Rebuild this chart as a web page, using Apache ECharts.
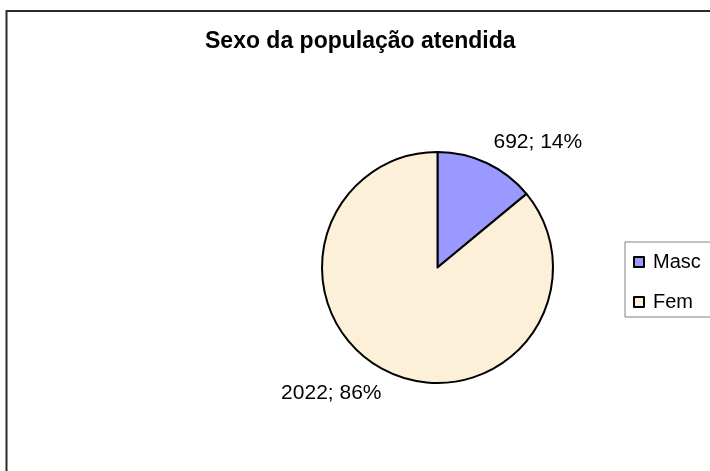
<!DOCTYPE html>
<html>
<head>
<meta charset="utf-8">
<script src="https://cdn.jsdelivr.net/npm/echarts@6/dist/echarts.min.js"></script>
<style>html,body{margin:0;padding:0;background:#fff;}#c{width:710px;height:471px;}</style>
</head>
<body>
<div id="c"></div>
<script>
const titleText = 'Sexo da população atendida';
const categories = ['Masc', 'Fem'];
const counts = [692, 2022];
const percents = [14, 86];
const colors = ['#9999FF', '#FCF1D8'];

const chart = echarts.init(document.getElementById('c'), null, {renderer: 'canvas'});
const FONT = '"Liberation Sans", Arial, sans-serif';

chart.setOption({
  backgroundColor: '#ffffff',
  animation: false,
  graphic: [{
    type: 'rect',
    shape: {x: 6.5, y: 11, width: 800, height: 600},
    style: {fill: 'none', stroke: '#2b2b2b', lineWidth: 2},
    silent: true, z: -1
  }],
  title: {
    text: titleText,
    left: 200,
    top: 25,
    textStyle: {fontFamily: FONT, fontSize: 23, fontWeight: 'bold', color: '#000'}
  },
  legend: {
    orient: 'vertical',
    left: 625,
    top: 242,
    padding: [10, 40, 5, 8],
    itemGap: 20,
    itemWidth: 10,
    itemHeight: 10,
    icon: 'rect',
    borderColor: '#808080',
    borderWidth: 1,
    data: categories,
    textStyle: {fontFamily: FONT, fontSize: 20, color: '#000', lineHeight: 20, padding: [0, 0, 0, 4]}
  },
  series: [{
    type: 'pie',
    center: [437.5, 267.5],
    radius: 115.5,
    startAngle: 90,
    clockwise: true,
    avoidLabelOverlap: false,
    itemStyle: {borderColor: '#000', borderWidth: 2},
    label: {
      show: true,
      position: 'outside',
      distanceToLabelLine: -3,
      fontFamily: FONT,
      fontSize: 21,
      color: '#000',
      formatter: p => counts[p.dataIndex] + '; ' + percents[p.dataIndex] + '%'
    },
    labelLine: {show: false, length: 23, length2: 0},
    emphasis: {disabled: true},
    data: categories.map((c, i) => ({name: c, value: percents[i], itemStyle: {color: colors[i]}}))
  }]
});
</script>
</body>
</html>
